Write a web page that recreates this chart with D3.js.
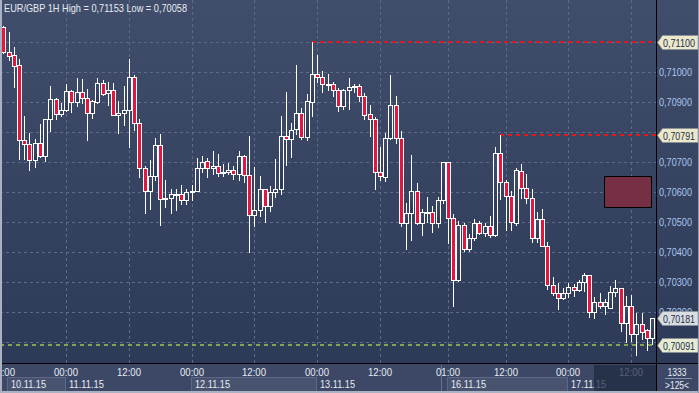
<!DOCTYPE html>
<html><head><meta charset="utf-8">
<script src="https://cdn.jsdelivr.net/npm/d3@7"></script>
<style>
html,body{margin:0;padding:0;background:#2c3956;}
svg{display:block;}
text{font-family:"Liberation Sans",Arial,sans-serif;}
</style></head>
<body>
<svg id="c" width="699" height="393"></svg>
<script>
// ---- data (EUR/GBP 1H) ----
const openV = [0.71148,0.71066,0.71055,0.71021,0.70774,0.70761,0.70708,0.70764,0.70720,0.70843,0.70908,0.70861,0.70873,0.70935,0.70898,0.70932,0.70914,0.70864,0.70900,0.70961,0.70928,0.70941,0.70856,0.70864,0.70874,0.70981,0.70831,0.70681,0.70603,0.70655,0.70758,0.70578,0.70581,0.70591,0.70594,0.70572,0.70600,0.70603,0.70680,0.70704,0.70681,0.70685,0.70663,0.70666,0.70674,0.70660,0.70719,0.70657,0.70523,0.70541,0.70611,0.70553,0.70600,0.70610,0.70788,0.70778,0.70809,0.70864,0.70783,0.70901,0.70994,0.70981,0.70956,0.70958,0.70941,0.70886,0.70941,0.70948,0.70954,0.70921,0.70858,0.70844,0.70668,0.70650,0.70779,0.70888,0.70781,0.70498,0.70531,0.70604,0.70498,0.70532,0.70534,0.70498,0.70574,0.70701,0.70514,0.70308,0.70489,0.70410,0.70448,0.70498,0.70464,0.70488,0.70458,0.70731,0.70633,0.70586,0.70496,0.70670,0.70614,0.70581,0.70446,0.70511,0.70420,0.70291,0.70264,0.70246,0.70264,0.70285,0.70274,0.70302,0.70325,0.70200,0.70234,0.70220,0.70216,0.70269,0.70282,0.70163,0.70222,0.70128,0.70161,0.70140,0.70116];
const highV = [0.71153,0.71131,0.71081,0.71041,0.70852,0.70798,0.70775,0.70825,0.70844,0.70952,0.70914,0.70896,0.70959,0.70939,0.70978,0.70975,0.70944,0.70905,0.70978,0.70972,0.70965,0.70963,0.70902,0.70952,0.71044,0.70989,0.70844,0.70686,0.70708,0.70780,0.70794,0.70639,0.70609,0.70611,0.70622,0.70611,0.70625,0.70713,0.70719,0.70713,0.70735,0.70725,0.70694,0.70698,0.70685,0.70735,0.70722,0.70785,0.70682,0.70655,0.70611,0.70619,0.70709,0.70854,0.70932,0.70828,0.71021,0.70878,0.70925,0.71100,0.71056,0.71002,0.70994,0.70965,0.70946,0.70944,0.70978,0.70958,0.70958,0.70928,0.70889,0.70850,0.70750,0.70798,0.70989,0.70919,0.70802,0.70565,0.70722,0.70629,0.70544,0.70585,0.70555,0.70585,0.70701,0.70701,0.70528,0.70505,0.70496,0.70461,0.70512,0.70505,0.70496,0.70521,0.70750,0.70791,0.70639,0.70605,0.70680,0.70692,0.70659,0.70609,0.70532,0.70544,0.70435,0.70319,0.70299,0.70281,0.70296,0.70294,0.70308,0.70331,0.70325,0.70250,0.70265,0.70243,0.70288,0.70309,0.70282,0.70255,0.70259,0.70198,0.70198,0.70143,0.70181];
const lowV = [0.71064,0.71039,0.70950,0.70710,0.70710,0.70673,0.70684,0.70717,0.70703,0.70803,0.70843,0.70853,0.70870,0.70865,0.70886,0.70895,0.70773,0.70845,0.70896,0.70924,0.70889,0.70855,0.70796,0.70822,0.70749,0.70805,0.70650,0.70530,0.70542,0.70641,0.70490,0.70550,0.70530,0.70539,0.70559,0.70559,0.70575,0.70602,0.70666,0.70650,0.70661,0.70655,0.70655,0.70659,0.70642,0.70639,0.70633,0.70400,0.70486,0.70519,0.70500,0.70536,0.70583,0.70592,0.70689,0.70717,0.70794,0.70775,0.70772,0.70853,0.70966,0.70933,0.70939,0.70919,0.70870,0.70875,0.70876,0.70932,0.70903,0.70844,0.70786,0.70610,0.70639,0.70636,0.70775,0.70763,0.70486,0.70410,0.70440,0.70494,0.70456,0.70500,0.70466,0.70483,0.70563,0.70430,0.70220,0.70305,0.70405,0.70405,0.70440,0.70461,0.70453,0.70450,0.70455,0.70578,0.70475,0.70475,0.70491,0.70580,0.70565,0.70435,0.70433,0.70420,0.70276,0.70256,0.70210,0.70243,0.70250,0.70254,0.70272,0.70272,0.70186,0.70180,0.70214,0.70193,0.70214,0.70254,0.70139,0.70100,0.70103,0.70058,0.70111,0.70074,0.70094];
const closeV = [0.71066,0.71054,0.71020,0.70774,0.70761,0.70708,0.70764,0.70720,0.70844,0.70908,0.70860,0.70874,0.70935,0.70898,0.70932,0.70914,0.70864,0.70902,0.70961,0.70926,0.70941,0.70856,0.70864,0.70874,0.70984,0.70831,0.70681,0.70603,0.70655,0.70758,0.70578,0.70580,0.70592,0.70594,0.70572,0.70601,0.70603,0.70681,0.70701,0.70680,0.70685,0.70663,0.70668,0.70674,0.70660,0.70719,0.70656,0.70523,0.70541,0.70611,0.70553,0.70600,0.70611,0.70788,0.70778,0.70808,0.70864,0.70783,0.70902,0.70994,0.70981,0.70958,0.70959,0.70941,0.70886,0.70941,0.70948,0.70953,0.70920,0.70856,0.70843,0.70666,0.70653,0.70781,0.70888,0.70781,0.70498,0.70531,0.70604,0.70498,0.70534,0.70534,0.70498,0.70574,0.70701,0.70514,0.70308,0.70489,0.70410,0.70448,0.70498,0.70464,0.70488,0.70458,0.70731,0.70633,0.70586,0.70500,0.70672,0.70614,0.70581,0.70446,0.70511,0.70420,0.70291,0.70264,0.70246,0.70264,0.70285,0.70274,0.70302,0.70325,0.70200,0.70234,0.70220,0.70234,0.70269,0.70282,0.70163,0.70222,0.70128,0.70161,0.70136,0.70116,0.70181];

const priceTicks = [0.711,0.710,0.709,0.708,0.707,0.706,0.705,0.704,0.703,0.702,0.701];
const timeTickIdx = [0,12,24,36,48,60,72,85,96,108,120];
const timeTickLabels = ["12:00","00:00","12:00","00:00","12:00","00:00","12:00","01:00","12:00","00:00","12:00"];
const dateLabels = ["10.11.15","11.11.15","12.11.15","13.11.15","16.11.15","17.11.15"];
const dateStartIdx = [0,12,36,60,85,108];
const dateEndIdx   = [12,36,60,84,108,124];
const dateBoxed    = [true,false,true,false,true,false];
const weekGapIdx = 84;
const levelPrices = [0.71100, 0.70791, 0.70091];
const levelStartIdx = [59, 95, null];
const levelKinds = ["high","high","bid"];
const tagPrices = [0.71100, 0.70791, 0.70181, 0.70091];
const tagKinds = ["high","high","last","bid"];
const zoneIdx = [115, 124];
const zonePrice = [0.70652, 0.70548];
const title = "EUR/GBP 1H High = 0,71153 Low = 0,70058";
const barCount = "1333";
const visibleBars = ">125<";

// ---- layout ----
const W = 699, H = 393;
const plotR = 656, plotB = 363;
const FS = 11;
const svg = d3.select("#c");
const defs = svg.append("defs");
const g1 = defs.append("linearGradient").attr("id","bg").attr("x1",0).attr("y1",0).attr("x2",0).attr("y2",1);
g1.append("stop").attr("offset","0%").attr("stop-color","#414e6b");
g1.append("stop").attr("offset","100%").attr("stop-color","#2b3856");
defs.append("clipPath").attr("id","plotclip").append("rect").attr("x",2).attr("y",0).attr("width",plotR-2).attr("height",plotB);
defs.append("clipPath").attr("id","axclip").append("rect").attr("x",2).attr("y",plotB).attr("width",plotR-2).attr("height",H-plotB);

svg.append("rect").attr("width",W).attr("height",H).attr("fill","url(#bg)");

const n = openV.length;
const x = d3.scaleLinear().domain([0, n-1]).range([3.3, 652]);
const y = d3.scaleLinear().domain([0.701, 0.711]).range([342.4, 41.7]);
const px = i => Math.round(x(i));

const plot = svg.append("g").attr("clip-path","url(#plotclip)");

// grid
plot.append("g").selectAll("line").data(priceTicks).join("line")
  .attr("x1",0).attr("x2",plotR).attr("y1",d=>Math.round(y(d))+0.5).attr("y2",d=>Math.round(y(d))+0.5)
  .attr("stroke","#5d6a8a").attr("stroke-dasharray","3,3");
plot.append("g").selectAll("line").data(timeTickIdx.slice(1)).join("line")
  .attr("x1",d=>px(d)+0.5).attr("x2",d=>px(d)+0.5).attr("y1",0).attr("y2",plotB)
  .attr("stroke","#5d6a8a").attr("stroke-dasharray","3,3");

// zone rectangle
plot.append("rect")
  .attr("x",Math.round(x(zoneIdx[0])-0.5)+0.5).attr("y",Math.round(y(zonePrice[0]))+0.5)
  .attr("width",Math.round(x(zoneIdx[1])-x(zoneIdx[0])))
  .attr("height",Math.round(y(zonePrice[1])-y(zonePrice[0])))
  .attr("fill","#773043").attr("stroke","#000").attr("stroke-width",1);

// level lines
const levelColor = {high:"#de1a1e", bid:"#7fa64e"};
levelPrices.forEach((p,k)=>{
  const xs = levelStartIdx[k]===null ? 0 : px(levelStartIdx[k]);
  plot.append("line").attr("x1",xs).attr("x2",plotR).attr("y1",Math.round(y(p))).attr("y2",Math.round(y(p)))
    .attr("stroke",levelColor[levelKinds[k]]).attr("stroke-width",2).attr("stroke-dasharray","4,4");
});

// candles
const idx = d3.range(n);
const cg = plot.append("g");
cg.selectAll("line.w").data(idx).join("line").attr("class","w")
  .attr("x1",i=>px(i)+0.5).attr("x2",i=>px(i)+0.5)
  .attr("y1",i=>Math.round(y(highV[i]))).attr("y2",i=>Math.round(y(lowV[i]))+1)
  .attr("stroke","#ffffff").attr("stroke-width",1);
cg.selectAll("rect.b").data(idx).join("rect").attr("class","b")
  .attr("x",i=>px(i)-1.5).attr("width",4)
  .attr("y",i=>Math.round(y(Math.max(openV[i],closeV[i])))+0.5)
  .attr("height",i=>Math.max(1,Math.round(y(Math.min(openV[i],closeV[i])))-Math.round(y(Math.max(openV[i],closeV[i])))))
  .attr("fill",i=>closeV[i]<openV[i] ? "#e3163e" : "url(#bg)")
  .attr("stroke","#ffffff").attr("stroke-width",1);

// title
svg.append("text").attr("x",4).attr("y",12).attr("fill","#e6ebf3").attr("font-size",11.5)
  .attr("textLength",183).attr("lengthAdjust","spacingAndGlyphs").text(title);

// borders of plot
svg.append("line").attr("x1",plotR+0.5).attr("x2",plotR+0.5).attr("y1",0).attr("y2",391).attr("stroke","#000");
svg.append("rect").attr("x",0).attr("y",plotB).attr("width",W).attr("height",H-plotB).attr("fill","#3c4866");
svg.append("line").attr("x1",0).attr("x2",W).attr("y1",plotB+0.5).attr("y2",plotB+0.5).attr("stroke","#000");
svg.append("line").attr("x1",plotR+0.5).attr("x2",plotR+0.5).attr("y1",plotB).attr("y2",391).attr("stroke","#000");

// bottom time axis
const ax = svg.append("g").attr("clip-path","url(#axclip)");
dateLabels.forEach((d,k)=>{
  const x0 = Math.max(7, px(dateStartIdx[k])-1);
  const x1 = px(dateEndIdx[k])-1;
  if(dateBoxed[k]){
    ax.append("rect").attr("x",x0+0.5).attr("y",377.5).attr("width",x1-x0).attr("height",14)
      .attr("fill","#47536f").attr("stroke","#5c6886");
  }
  ax.append("text").attr("x",x0+4).attr("y",388).attr("fill","#e8ecf4").attr("font-size",FS)
    .attr("textLength",35).attr("lengthAdjust","spacingAndGlyphs").text(d);
});
ax.append("line").attr("x1",px(weekGapIdx)-1.5).attr("x2",px(weekGapIdx)-1.5).attr("y1",365).attr("y2",391)
  .attr("stroke","#66728e");
ax.selectAll("text.t").data(timeTickIdx).join("text").attr("class","t")
  .attr("x",(d)=>px(d)).attr("y",376).attr("text-anchor","middle")
  .attr("fill","#e8ecf4").attr("font-size",FS).attr("textLength",24).attr("lengthAdjust","spacingAndGlyphs")
  .text((d,k)=>timeTickLabels[k]);
// dark overlay at the right end
ax.append("rect").attr("x",594).attr("y",365).attr("width",plotR-594).attr("height",26)
  .attr("fill","#1e2840").attr("opacity",0.72);

// right price axis labels (those fully hidden by a tag are skipped)
const fmt = p => d3.format(".5f")(p).replace(".",",");
const hidden = p => tagPrices.some(t => Math.abs(y(t)-y(p)) < 4);
svg.append("g").selectAll("text").data(priceTicks.filter(p=>p<0.711 && p>0.7015 && !hidden(p))).join("text")
  .attr("x",659).attr("y",d=>Math.round(y(d))+4).attr("fill","#a9c6f0").attr("font-size",FS)
  .attr("textLength",33).attr("lengthAdjust","spacingAndGlyphs").text(fmt);

// tags
const tagFill = {high:"#ece8cc", last:"#d9dde2", bid:"#e6ebd2"};
tagPrices.forEach((p,k)=>{
  const cy = Math.round(y(p))+0.5;
  const tg = svg.append("g");
  tg.append("path").attr("d",`M${657.5},${cy} L${662.5},${cy-7} L${698},${cy-7} L${698},${cy+7} L${662.5},${cy+7} Z`)
    .attr("fill",tagFill[tagKinds[k]]).attr("stroke","#8a8f9a").attr("stroke-width",0.6);
  tg.append("text").attr("x",663).attr("y",cy+4).attr("fill","#243049").attr("font-size",10.5)
    .attr("textLength",32).attr("lengthAdjust","spacingAndGlyphs").text(fmt(p));
});

// bottom-right counters
svg.append("text").attr("x",677).attr("y",376).attr("text-anchor","middle").attr("fill","#e8ecf4").attr("font-size",FS)
  .attr("textLength",19).attr("lengthAdjust","spacingAndGlyphs").text(barCount);
svg.append("line").attr("x1",665).attr("x2",692).attr("y1",378.5).attr("y2",378.5).attr("stroke","#8c96ac");
svg.append("text").attr("x",677).attr("y",388.5).attr("text-anchor","middle").attr("fill","#e8ecf4").attr("font-size",FS)
  .attr("textLength",24).attr("lengthAdjust","spacingAndGlyphs").text(visibleBars);

// outer frame
svg.append("rect").attr("x",0).attr("y",0).attr("width",2).attr("height",H).attr("fill","#aab2c2");
svg.append("rect").attr("x",0).attr("y",391).attr("width",W).attr("height",2).attr("fill","#aab2c2");
svg.append("rect").attr("x",698).attr("y",0).attr("width",1).attr("height",H).attr("fill","#8e97aa");
</script>
</body></html>
